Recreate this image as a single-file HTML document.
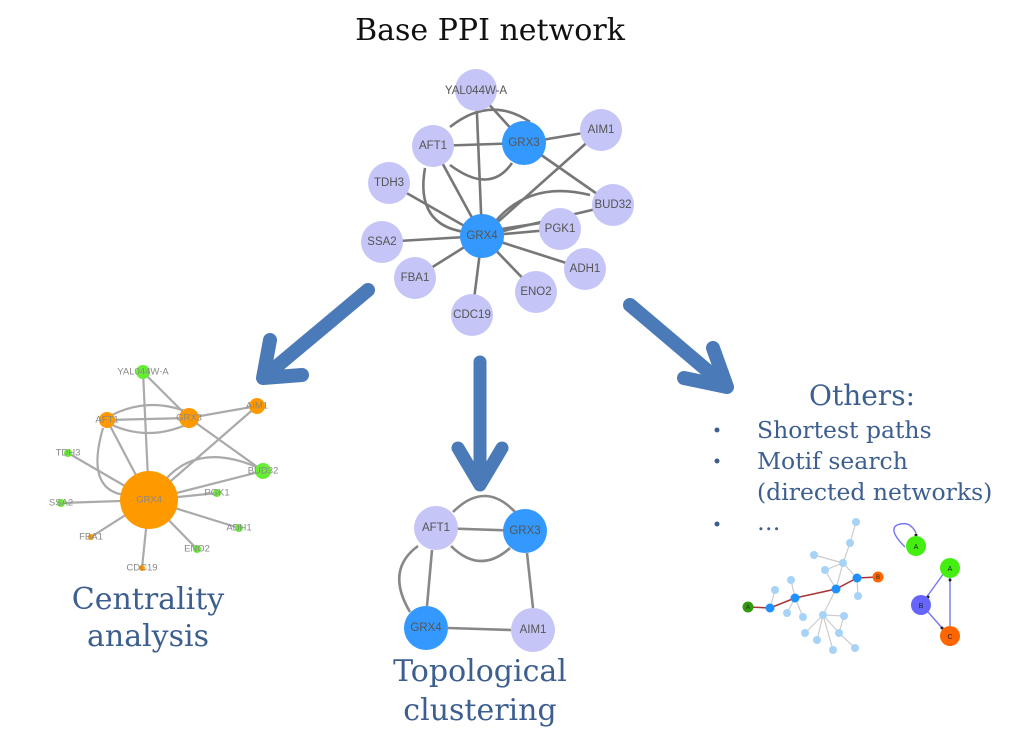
<!DOCTYPE html>
<html><head><meta charset="utf-8"><style>
html,body{margin:0;padding:0;background:#fff}
svg{display:block}
.t{font-family:"Liberation Sans",sans-serif;fill:#555;text-anchor:middle;dominant-baseline:central}
.s{font-family:"DejaVu Serif","Liberation Serif",serif;fill:#3d5f8f}
</style></head><body>
<svg width="1024" height="749" viewBox="0 0 1024 749" xmlns="http://www.w3.org/2000/svg">
<rect width="1024" height="749" fill="#fff"/>
<text x="490" y="40" font-family="DejaVu Serif,Liberation Serif,serif" font-size="30" text-anchor="middle" fill="#111">Base PPI network</text>

<g stroke="#777" stroke-width="2.6" fill="none">
<line x1="476" y1="90" x2="482" y2="236"/>
<line x1="476" y1="90" x2="524" y2="143"/>
<line x1="433" y1="146" x2="524" y2="143"/>
<path d="M450 127 Q490 95 530 122"/>
<path d="M450 165 Q490 195 512 163"/>
<line x1="524" y1="143" x2="601" y2="130"/>
<line x1="524" y1="143" x2="613" y2="205"/>
<line x1="601" y1="130" x2="482" y2="236"/>
<path d="M495 222 Q530 180 590 195"/>
<path d="M425 168 Q415 225 465 232"/>
<line x1="433" y1="146" x2="482" y2="236"/>
<line x1="389" y1="183" x2="482" y2="236"/>
<line x1="382" y1="242" x2="482" y2="236"/>
<line x1="415" y1="278" x2="482" y2="236"/>
<line x1="472" y1="315" x2="482" y2="236"/>
<line x1="536" y1="292" x2="482" y2="236"/>
<line x1="585" y1="269" x2="482" y2="236"/>
<line x1="560" y1="229" x2="482" y2="236"/>
<line x1="613" y1="205" x2="482" y2="236"/>
<line x1="560" y1="220" x2="482" y2="232"/>
</g>
<g>
<circle cx="476" cy="90" r="21" fill="#c5c5f7"/>
<circle cx="433" cy="146" r="21" fill="#c5c5f7"/>
<circle cx="524" cy="143" r="22" fill="#3399ff"/>
<circle cx="601" cy="130" r="21" fill="#c5c5f7"/>
<circle cx="389" cy="183" r="21" fill="#c5c5f7"/>
<circle cx="613" cy="205" r="21" fill="#c5c5f7"/>
<circle cx="482" cy="236" r="22" fill="#3399ff"/>
<circle cx="560" cy="229" r="21" fill="#c5c5f7"/>
<circle cx="382" cy="242" r="21" fill="#c5c5f7"/>
<circle cx="415" cy="278" r="21" fill="#c5c5f7"/>
<circle cx="585" cy="269" r="21" fill="#c5c5f7"/>
<circle cx="536" cy="292" r="21" fill="#c5c5f7"/>
<circle cx="472" cy="315" r="21" fill="#c5c5f7"/>
</g>
<g class="t" font-size="11.5">
<text x="476" y="91">YAL044W-A</text><text x="433" y="146">AFT1</text><text x="524" y="143">GRX3</text>
<text x="601" y="130">AIM1</text><text x="389" y="183">TDH3</text><text x="613" y="205">BUD32</text>
<text x="482" y="236">GRX4</text><text x="560" y="229">PGK1</text><text x="382" y="242">SSA2</text>
<text x="415" y="278">FBA1</text><text x="585" y="269">ADH1</text><text x="536" y="292">ENO2</text><text x="472" y="315">CDC19</text>
</g>

<g stroke="#4a7ab8" stroke-linecap="round" stroke-linejoin="round" fill="none">
<line x1="368" y1="290" x2="270" y2="372" stroke-width="14"/>
<polyline points="270,340 263,378 302,375" stroke-width="14"/>
<line x1="480" y1="362" x2="480" y2="480" stroke-width="13"/>
<polyline points="458,448 480,485 502,448" stroke-width="13"/>
<line x1="630" y1="305" x2="722" y2="383" stroke-width="14"/>
<polyline points="713,348 727,387 684,378" stroke-width="14"/>
</g>

<g stroke="#aaa" stroke-width="2.2" fill="none">
<line x1="143" y1="372" x2="149" y2="500"/>
<line x1="143" y1="372" x2="189" y2="418"/>
<line x1="107" y1="420" x2="189" y2="418"/>
<path d="M110 416 Q150 395 192 414"/>
<path d="M110 424 Q150 443 192 422"/>
<line x1="189" y1="418" x2="257" y2="406"/>
<line x1="189" y1="418" x2="263" y2="471"/>
<line x1="257" y1="406" x2="149" y2="500"/>
<path d="M165 480 Q200 440 263 470"/>
<path d="M103 428 Q85 490 125 495"/>
<line x1="107" y1="420" x2="149" y2="500"/>
<line x1="68" y1="453" x2="149" y2="500"/>
<line x1="61" y1="503" x2="149" y2="500"/>
<line x1="91" y1="537" x2="149" y2="500"/>
<line x1="142" y1="568" x2="149" y2="500"/>
<line x1="197" y1="549" x2="149" y2="500"/>
<line x1="239" y1="528" x2="149" y2="500"/>
<line x1="217" y1="493" x2="149" y2="500"/>
<line x1="263" y1="471" x2="149" y2="500"/>
</g>
<g>
<circle cx="143" cy="372" r="7" fill="#66ee33"/>
<circle cx="107" cy="420" r="8" fill="#ff9900"/>
<circle cx="189" cy="418" r="10" fill="#ff9900"/>
<circle cx="257" cy="406" r="8" fill="#ff9900"/>
<circle cx="68" cy="453" r="4" fill="#66ee33"/>
<circle cx="263" cy="471" r="8" fill="#66ee33"/>
<circle cx="149" cy="500" r="29" fill="#ff9900"/>
<circle cx="217" cy="493" r="4" fill="#66ee33"/>
<circle cx="61" cy="503" r="4" fill="#66ee33"/>
<circle cx="91" cy="537" r="3" fill="#ff9900"/>
<circle cx="239" cy="528" r="4" fill="#66ee33"/>
<circle cx="197" cy="549" r="4" fill="#66ee33"/>
<circle cx="142" cy="568" r="3" fill="#ff9900"/>
</g>
<g class="t" font-size="9.5" style="fill:#888">
<text x="143" y="372">YAL044W-A</text><text x="107" y="420">AFT1</text><text x="189" y="418">GRX3</text>
<text x="257" y="406">AIM1</text><text x="68" y="453">TDH3</text><text x="263" y="471">BUD32</text>
<text x="149" y="500">GRX4</text><text x="217" y="493">PGK1</text><text x="61" y="503">SSA2</text>
<text x="91" y="537">FBA1</text><text x="239" y="528">ADH1</text><text x="197" y="549">ENO2</text><text x="142" y="568">CDC19</text>
</g>
<text class="s" x="148" y="609" font-size="30" text-anchor="middle">Centrality</text>
<text class="s" x="148" y="646" font-size="30" text-anchor="middle">analysis</text>

<g stroke="#888" stroke-width="2.6" fill="none">
<line x1="436" y1="528" x2="525" y2="531"/>
<path d="M453 512 Q485 480 515 512"/>
<path d="M451 546 Q480 575 510 548"/>
<line x1="432" y1="550" x2="427" y2="606"/>
<path d="M418 546 Q385 570 410 612"/>
<line x1="527" y1="553" x2="533" y2="608"/>
<line x1="448" y1="628" x2="511" y2="630"/>
</g>
<circle cx="436" cy="528" r="22" fill="#c5c5f7"/>
<circle cx="525" cy="531" r="22" fill="#3399ff"/>
<circle cx="426" cy="628" r="22" fill="#3399ff"/>
<circle cx="533" cy="630" r="22" fill="#c5c5f7"/>
<g class="t" font-size="11.5">
<text x="436" y="528">AFT1</text><text x="525" y="531">GRX3</text><text x="426" y="628">GRX4</text><text x="533" y="630">AIM1</text>
</g>
<text class="s" x="480" y="681" font-size="30" text-anchor="middle">Topological</text>
<text class="s" x="480" y="720" font-size="30" text-anchor="middle">clustering</text>

<text class="s" x="862" y="405" font-size="28" text-anchor="middle">Others:</text>
<g class="s" font-size="23.5">
<circle cx="717" cy="430" r="2.5" fill="#3d5f8f"/><text x="757" y="438">Shortest paths</text>
<circle cx="717" cy="461" r="2.5" fill="#3d5f8f"/><text x="757" y="469">Motif search</text>
<text x="757" y="500">(directed networks)</text>
<circle cx="717" cy="524" r="2.5" fill="#3d5f8f"/><text x="757" y="530">…</text>
</g>

<g stroke="#ccc" stroke-width="1.2">
<line x1="856" y1="522" x2="850" y2="543"/><line x1="850" y1="543" x2="843" y2="563"/>
<line x1="843" y1="563" x2="814" y2="555"/><line x1="843" y1="563" x2="825" y2="570"/>
<line x1="843" y1="563" x2="857" y2="578"/><line x1="825" y1="570" x2="836" y2="589"/>
<line x1="843" y1="563" x2="836" y2="589"/><line x1="857" y1="578" x2="858" y2="596"/>
<line x1="795" y1="598" x2="791" y2="580"/><line x1="795" y1="598" x2="787" y2="613"/>
<line x1="795" y1="598" x2="803" y2="617"/><line x1="770" y1="608" x2="775" y2="590"/>
<line x1="836" y1="589" x2="823" y2="615"/><line x1="823" y1="615" x2="805" y2="633"/>
<line x1="823" y1="615" x2="817" y2="640"/><line x1="823" y1="615" x2="833" y2="650"/>
<line x1="823" y1="615" x2="839" y2="633"/><line x1="839" y1="633" x2="855" y2="648"/>
<line x1="823" y1="615" x2="844" y2="616"/><line x1="844" y1="616" x2="839" y2="633"/>
</g>
<polyline points="748,607 770,608 795,598 836,589 857,578 878,577" stroke="#aa3333" stroke-width="1.5" fill="none"/>
<g fill="#a6d3f7">
<circle cx="856" cy="522" r="4"/><circle cx="850" cy="543" r="4"/><circle cx="814" cy="555" r="4"/>
<circle cx="825" cy="570" r="4"/><circle cx="843" cy="563" r="4"/><circle cx="858" cy="596" r="4"/>
<circle cx="775" cy="590" r="4"/><circle cx="791" cy="580" r="4"/><circle cx="787" cy="613" r="4"/>
<circle cx="803" cy="617" r="4"/><circle cx="823" cy="615" r="4"/><circle cx="844" cy="616" r="4"/>
<circle cx="805" cy="633" r="4"/><circle cx="839" cy="633" r="4"/><circle cx="817" cy="640" r="4"/>
<circle cx="833" cy="650" r="4"/><circle cx="855" cy="648" r="4"/>
</g>
<g fill="#1e90ff">
<circle cx="770" cy="608" r="4.5"/><circle cx="795" cy="598" r="4.5"/><circle cx="836" cy="589" r="4.5"/><circle cx="857" cy="578" r="4.5"/>
</g>
<circle cx="748" cy="607" r="5.5" fill="#339911"/><circle cx="878" cy="577" r="5.5" fill="#ff6600"/>
<g font-family="Liberation Sans,sans-serif" font-size="6" text-anchor="middle" fill="#222">
<text x="748" y="609">A</text><text x="878" y="579">B</text></g>

<path d="M905 547 Q888 530 897 525 Q910 520 916 533" stroke="#7777ee" stroke-width="1.4" fill="none"/>
<g stroke="#7777ee" stroke-width="1.4">
<line x1="944" y1="573" x2="926" y2="598"/><line x1="928" y1="612" x2="943" y2="629"/>
<line x1="950" y1="626" x2="950" y2="578"/>
</g>
<g fill="#222"><circle cx="916" cy="535" r="1.5"/><circle cx="928" cy="597" r="1.5"/><circle cx="942" cy="628" r="1.5"/><circle cx="950" cy="580" r="1.5"/></g>
<circle cx="916" cy="546" r="10" fill="#44ee11"/>
<circle cx="950" cy="568" r="10" fill="#44ee11"/>
<circle cx="921" cy="605" r="10" fill="#6666ff"/>
<circle cx="950" cy="636" r="10" fill="#ff6600"/>
<g font-family="Liberation Sans,sans-serif" font-size="7" text-anchor="middle" fill="#222">
<text x="916" y="549">A</text><text x="950" y="571">A</text><text x="921" y="608">B</text><text x="950" y="639">C</text></g>
</svg>
</body></html>
